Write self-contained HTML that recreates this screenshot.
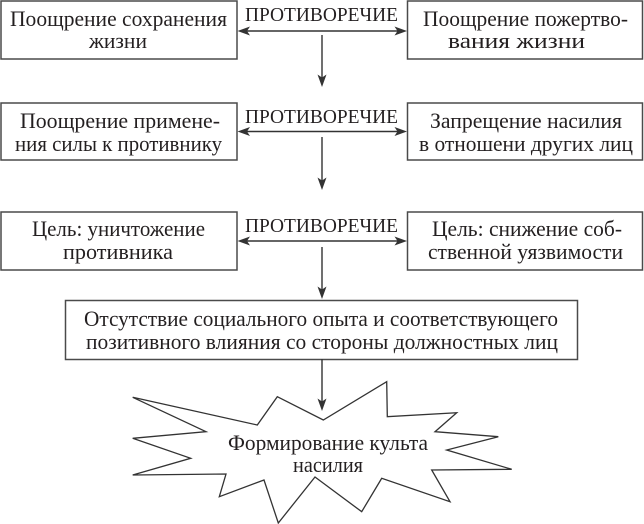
<!DOCTYPE html>
<html>
<head>
<meta charset="utf-8">
<style>
  html,body{margin:0;padding:0;background:#fff;}
  svg{display:block;}
  text{font-family:"Liberation Serif","DejaVu Serif",serif;fill:#231f20;}
</style>
</head>
<body>
<svg width="644" height="524" viewBox="0 0 644 524" xmlns="http://www.w3.org/2000/svg">
  <g fill="none" stroke="#4a4a4a" stroke-width="1.5">
    <rect x="1" y="1" width="236" height="58"/>
    <rect x="407.5" y="1" width="235" height="58"/>
    <rect x="1" y="103" width="236" height="57"/>
    <rect x="407.5" y="103" width="235" height="57"/>
    <rect x="1" y="212" width="236" height="58"/>
    <rect x="407.5" y="212" width="235" height="58"/>
    <rect x="65.5" y="300.5" width="512" height="59"/>
    <polygon points="132.7,397.3 257.3,425 277.3,396.7 323.3,420 386.7,381.7 387.3,416.7 456.7,412.7 435,431.7 498.3,436.7 446.7,450 511.7,469.3 431.7,470 450,501.7 381.7,478.3 361.7,511.7 315,477 278.3,523 264,480 219.3,496.7 226,474 132.7,475 190.7,458.3 132.7,438.3 206,431.7" stroke-width="1.3" stroke="#333"/>
  </g>

  <!-- connectors -->
  <g stroke="#333" stroke-width="1.4" fill="none">
    <line x1="246" y1="31" x2="399" y2="31"/>
    <line x1="246" y1="131.5" x2="399" y2="131.5"/>
    <line x1="246" y1="241" x2="399" y2="241"/>
    <line x1="322" y1="35" x2="322" y2="78"/>
    <line x1="322" y1="137" x2="322" y2="181"/>
    <line x1="322" y1="247" x2="322" y2="290"/>
    <line x1="322" y1="359" x2="322" y2="402"/>
  </g>
  <g fill="#333" stroke="none">
    <path d="M237.5,31 L250,26.5 L247,31 L250,35.5 Z"/>
    <path d="M407,31 L394.5,26.5 L397.5,31 L394.5,35.5 Z"/>
    <path d="M237.5,131.5 L250,127 L247,131.5 L250,136 Z"/>
    <path d="M407,131.5 L394.5,127 L397.5,131.5 L394.5,136 Z"/>
    <path d="M237.5,241 L250,236.5 L247,241 L250,245.5 Z"/>
    <path d="M407,241 L394.5,236.5 L397.5,241 L394.5,245.5 Z"/>
    <path d="M322,87 L317.5,74.5 L322,77.5 L326.5,74.5 Z"/>
    <path d="M322,190 L317.5,177.5 L322,180.5 L326.5,177.5 Z"/>
    <path d="M322,299 L317.5,286.5 L322,289.5 L326.5,286.5 Z"/>
    <path d="M322,411 L317.5,398.5 L322,401.5 L326.5,398.5 Z"/>
  </g>

  <!-- labels -->
  <g font-size="20.5" text-anchor="middle">
    <text x="321.5" y="21" textLength="153" lengthAdjust="spacingAndGlyphs">ПРОТИВОРЕЧИЕ</text>
    <text x="321.5" y="123" textLength="153" lengthAdjust="spacingAndGlyphs">ПРОТИВОРЕЧИЕ</text>
    <text x="321.5" y="232" textLength="153" lengthAdjust="spacingAndGlyphs">ПРОТИВОРЕЧИЕ</text>
  </g>
  <g font-size="22" text-anchor="middle">
    <text x="118.5" y="26" textLength="217" lengthAdjust="spacingAndGlyphs">Поощрение сохранения</text>
    <text x="118" y="48" textLength="58" lengthAdjust="spacingAndGlyphs">жизни</text>

    <text x="525.5" y="26" textLength="205" lengthAdjust="spacingAndGlyphs">Поощрение пожертво-</text>
    <text x="516.5" y="48" textLength="137" lengthAdjust="spacingAndGlyphs">вания жизни</text>

    <text x="120" y="128" textLength="200" lengthAdjust="spacingAndGlyphs">Поощрение примене-</text>
    <text x="118.5" y="151" textLength="207" lengthAdjust="spacingAndGlyphs">ния силы к противнику</text>

    <text x="526" y="128" textLength="192" lengthAdjust="spacingAndGlyphs">Запрещение насилия</text>
    <text x="526" y="151" textLength="214" lengthAdjust="spacingAndGlyphs">в отношени других лиц</text>

    <text x="118.5" y="236" textLength="173" lengthAdjust="spacingAndGlyphs">Цель: уничтожение</text>
    <text x="118" y="259" textLength="110" lengthAdjust="spacingAndGlyphs">противника</text>

    <text x="527" y="236" textLength="190" lengthAdjust="spacingAndGlyphs">Цель: снижение соб-</text>
    <text x="525.5" y="259" textLength="195" lengthAdjust="spacingAndGlyphs">ственной уязвимости</text>

    <text x="321" y="326" textLength="474" lengthAdjust="spacingAndGlyphs">Отсутствие социального опыта и соответствующего</text>
    <text x="322" y="349" textLength="472" lengthAdjust="spacingAndGlyphs">позитивного влияния со стороны должностных лиц</text>

    <text x="328" y="450" textLength="200" lengthAdjust="spacingAndGlyphs">Формирование культа</text>
    <text x="328" y="472" textLength="70" lengthAdjust="spacingAndGlyphs">насилия</text>
  </g>
</svg>
</body>
</html>
